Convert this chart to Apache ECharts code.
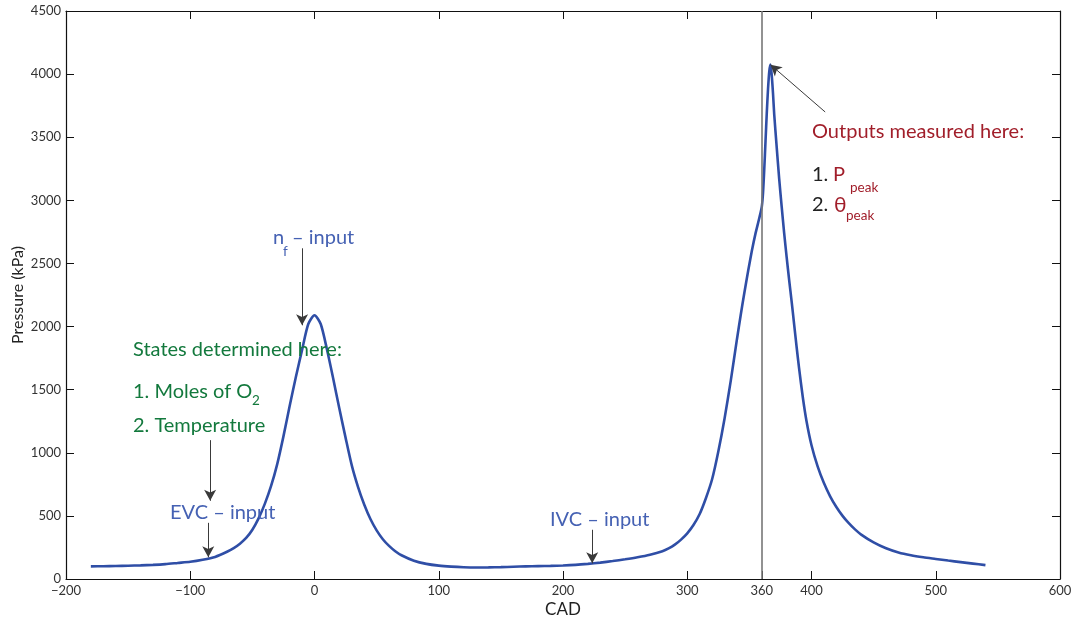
<!DOCTYPE html>
<html>
<head>
<meta charset="utf-8">
<script src="https://cdn.jsdelivr.net/npm/echarts@6/dist/echarts.min.js"></script>
<style>
  html, body { margin: 0; padding: 0; background: #ffffff; }
  #chart { width: 1073px; height: 618px; }
</style>
</head>
<body>
<div id="chart"></div>
<script>
// Crank angle (degrees) and cylinder pressure (kPa) over two cycles
const cad = [-180,-170,-160,-150,-140,-130,-120,-110,-100,-90,-80,-70,-65,-60,-55,-50,-45,-40,-35,-30,
  -25,-20,-15,-10,-5,0,5,10,15,20,25,30,35,40,45,50,55,60,65,70,80,90,100,110,120,130,140,150,160,170,
  180,190,200,210,220,230,240,250,260,270,280,285,290,295,300,305,310,315,320,325,330,335,340,343,346,349,352,
  355,358,360,361,362,363,364,365,366,367,368,369,370,372,374,376,378,380,382,384,386,388,390,393,396,
  400,405,410,415,420,425,430,435,440,450,460,470,480,490,500,510,520,530,540];
const pressure = [100,101,103,105,108,112,118,127,136,152,175,218,245,280,325,390,480,595,735,910,
  1130,1370,1600,1815,2020,2090,2020,1820,1590,1350,1120,900,730,590,475,385,315,262,220,188,145,120,106,98,93,91,92,94,97,100,
  102,104,107,112,120,130,142,156,172,192,220,242,272,312,362,428,515,640,790,1010,1270,1570,1900,2090,2270,2440,2600,
  2740,2860,2950,3060,3250,3470,3690,3880,4020,4075,3990,3850,3680,3420,3170,2950,2740,2550,2370,2200,2020,1840,1670,1440,1250,
  1060,890,760,655,570,500,442,393,352,290,243,210,188,172,159,146,134,122,110];

// Axis ticks
const xTicks = [-200, -100, 0, 100, 200, 300, 360, 400, 500, 600];
const xBoxTicks = [-200, -100, 0, 100, 200, 300, 400, 500, 600];
const yMin = 0, yMax = 4500, yStep = 500;
const tdc = 360;

// Annotation arrows: [fromCad, fromP, toCad, toP]
const arrowNf = [-10, 2620, -10, 2010];
const arrowTemp = [-84, 1100, -84, 620];
const arrowEvc = [-85.5, 445, -85.5, 172];
const arrowIvc = [223.5, 390, 223.5, 124];
const arrowPeakFrom = [411, 3700];

// Peak of the combustion cycle, taken from the data
let iPeak = 0;
pressure.forEach((p, i) => { if (p > pressure[iPeak]) iPeak = i; });

const BLUE = '#2f4ea6';
const LABEL_BLUE = '#4561b3';
const GREEN = '#13793d';
const RED = '#a11e2a';
const DARK = '#222222';
const FONT = 'Lato';
const NOTE = 20;
const SUB = 13.5;

const minus = v => String(v).replace('-', '\u2212');
const plain = v => String(v);

const arrow = (a, b) => [{ coord: a }, { coord: b }];

const chart = echarts.init(document.getElementById('chart'), null, { renderer: 'canvas' });

function txt(x, y, text, color, size) {
  return {
    type: 'text', x: x, y: y, silent: true, z: 5,
    style: { text: text, fill: color, font: size + 'px ' + FONT, textVerticalAlign: 'middle' }
  };
}

const tickStyle = { show: true, inside: true, length: 8, lineStyle: { color: '#111', width: 1 } };
const lineStyleAxis = { show: true, onZero: false, lineStyle: { color: '#111', width: 1.2 } };

chart.setOption({
  animation: false,
  backgroundColor: '#ffffff',
  grid: { left: 66, right: 13, top: 11, bottom: 39, containLabel: false, outerBoundsMode: 'none' },
  xAxis: [
    {
      type: 'value', min: -200, max: 600, position: 'bottom',
      axisLine: lineStyleAxis,
      axisTick: Object.assign({}, tickStyle, { customValues: xTicks }),
      axisLabel: { customValues: xTicks, formatter: minus, color: '#333', fontSize: 13, fontFamily: FONT, margin: 5 },
      splitLine: { show: false },
      name: 'CAD', nameLocation: 'middle', nameGap: 22, nameMoveOverlap: false,
      nameTextStyle: { color: '#222', fontSize: 17, fontFamily: FONT }
    },
    {
      type: 'value', min: -200, max: 600, position: 'top',
      axisLine: lineStyleAxis,
      axisTick: Object.assign({}, tickStyle, { customValues: xBoxTicks }),
      axisLabel: { show: false },
      splitLine: { show: false }
    }
  ],
  yAxis: [
    {
      type: 'value', min: yMin, max: yMax, interval: yStep, position: 'left',
      axisLine: lineStyleAxis,
      axisTick: tickStyle,
      axisLabel: { formatter: plain, color: '#333', fontSize: 13, fontFamily: FONT, margin: 5 },
      splitLine: { show: false },
      name: 'Pressure (kPa)', nameLocation: 'middle', nameGap: 40, nameMoveOverlap: false,
      nameTextStyle: { color: '#222', fontSize: 16, fontFamily: FONT }
    },
    {
      type: 'value', min: yMin, max: yMax, interval: yStep, position: 'right',
      axisLine: lineStyleAxis,
      axisTick: tickStyle,
      axisLabel: { show: false },
      splitLine: { show: false }
    }
  ],
  series: [
    {
      type: 'line',
      xAxisIndex: 0, yAxisIndex: 0,
      data: cad.map((c, i) => [c, pressure[i]]),
      showSymbol: false,
      smooth: 0.25,
      z: 3,
      lineStyle: { color: BLUE, width: 2.6 },
      markLine: {
        silent: true,
        animation: false,
        symbol: ['none', 'arrow'],
        symbolSize: [9, 11],
        label: { show: false },
        lineStyle: { color: '#3a3a3a', width: 1, type: 'solid' },
        data: [
          arrow([arrowNf[0], arrowNf[1]], [arrowNf[2], arrowNf[3]]),
          arrow([arrowTemp[0], arrowTemp[1]], [arrowTemp[2], arrowTemp[3]]),
          arrow([arrowEvc[0], arrowEvc[1]], [arrowEvc[2], arrowEvc[3]]),
          arrow([arrowIvc[0], arrowIvc[1]], [arrowIvc[2], arrowIvc[3]]),
          arrow(arrowPeakFrom, [cad[iPeak], pressure[iPeak]]),
          [
            { coord: [tdc, yMin], symbol: 'none', lineStyle: { color: '#777', width: 1.6 } },
            { coord: [tdc, yMax], symbol: 'none' }
          ]
        ]
      }
    }
  ],
  graphic: [
    // fuel amount input
    txt(273, 238, 'n', LABEL_BLUE, NOTE),
    txt(283, 252, 'f', LABEL_BLUE, SUB),
    txt(292, 238, '\u2013 input', LABEL_BLUE, NOTE),
    // states at exhaust valve closing
    txt(133, 350, 'States determined here:', GREEN, NOTE),
    txt(133, 392, '1. Moles of O', GREEN, NOTE),
    txt(252, 401, '2', GREEN, SUB),
    txt(133, 426, '2. Temperature', GREEN, NOTE),
    txt(170, 513, 'EVC \u2013 input', LABEL_BLUE, NOTE),
    txt(550, 520, 'IVC \u2013 input', LABEL_BLUE, NOTE),
    // combustion outputs
    txt(812, 132, 'Outputs measured here:', RED, NOTE),
    txt(812, 175, '1.', DARK, NOTE),
    txt(833, 175, 'P', RED, NOTE),
    txt(850, 188, 'peak', RED, SUB),
    txt(812, 205, '2.', DARK, NOTE),
    txt(834, 205, '\u03b8', RED, 21),
    txt(846, 216, 'peak', RED, SUB)
  ]
});
</script>
</body>
</html>
